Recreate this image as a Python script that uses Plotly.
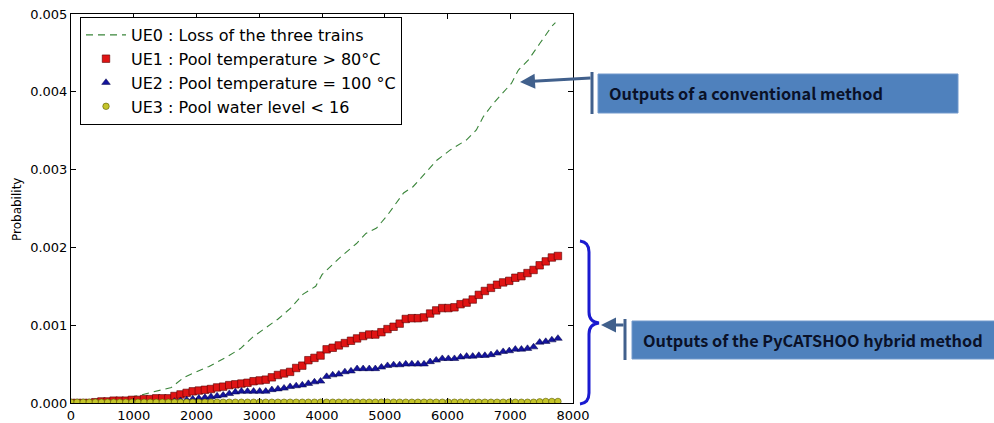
import plotly.graph_objects as go

# ---------------- data ----------------
TIME = [0, 97, 194, 291, 388, 485, 582, 679, 776, 873, 970, 1067, 1164, 1261, 1358, 1455,
        1552, 1649, 1746, 1843, 1940, 2037, 2134, 2231, 2328, 2425, 2522, 2619, 2716, 2813,
        2910, 3007, 3104, 3201, 3298, 3395, 3492, 3589, 3686, 3783, 3880, 3977, 4074, 4171,
        4268, 4365, 4462, 4559, 4656, 4753, 4850, 4947, 5044, 5141, 5238, 5335, 5432, 5529,
        5626, 5723, 5820, 5917, 6014, 6111, 6208, 6305, 6402, 6499, 6596, 6693, 6790, 6887,
        6984, 7081, 7178, 7275, 7372, 7469, 7566, 7663, 7760]

UE1 = [0, 0, 0, 0, 0.00001, 0.00002, 0.00002, 0.00003, 0.00003, 0.00003, 0.00004, 0.00004,
       0.00005, 0.00005, 0.00006, 0.00006, 0.00006, 0.00009, 0.00011, 0.00013, 0.00015,
       0.00016, 0.00017, 0.00018, 0.00020, 0.00021, 0.00023, 0.00024, 0.00025, 0.00026,
       0.00028, 0.00029, 0.00030, 0.00033, 0.00036, 0.00038, 0.00040, 0.00045, 0.00048,
       0.00055, 0.00058, 0.00061, 0.00069, 0.00071, 0.00074, 0.00077, 0.00080, 0.00083,
       0.00086, 0.00088, 0.00088, 0.00091, 0.00095, 0.00098, 0.00102, 0.00108, 0.00109,
       0.00109, 0.00110, 0.00115, 0.00119, 0.00122, 0.00122, 0.00123, 0.00127, 0.00129,
       0.00133, 0.00139, 0.00144, 0.00148, 0.00152, 0.00155, 0.00157, 0.00161, 0.00163,
       0.00167, 0.00171, 0.00177, 0.00182, 0.00187, 0.00189]

UE2 = [0, 0, 0, 0, 0, 0, 0, 0, 0, 0, 0, 0, 0, 0, 0, 0, 0,
       0.00002, 0.00003, 0.00004, 0.00005, 0.00006, 0.00007, 0.00008, 0.00009, 0.00010,
       0.00012, 0.00014, 0.00015, 0.00015, 0.00015, 0.00015, 0.00015, 0.00017, 0.00018,
       0.00019, 0.00021, 0.00022, 0.00023, 0.00025, 0.00027, 0.00028, 0.00034, 0.00036,
       0.00037, 0.00040, 0.00041, 0.00044, 0.00044, 0.00044, 0.00044, 0.00046, 0.00048,
       0.00049, 0.00049, 0.00050, 0.00050, 0.00050, 0.00050, 0.00053, 0.00055, 0.00057,
       0.00057, 0.00057, 0.00059, 0.00060, 0.00060, 0.00061, 0.00061, 0.00062, 0.00064,
       0.00066, 0.00067, 0.00069, 0.00069, 0.00070, 0.00072, 0.00078, 0.00079, 0.00081,
       0.00083]

UE3 = [0.00001] * 77 + [0.000015, 0.00002, 0.00002, 0.00002]

UE0_T = [0, 500, 800, 1000, 1300, 1600, 1800, 2000, 2200, 2500, 2700, 2900, 3100, 3300,
         3500, 3700, 3900, 4000, 4300, 4550, 4700, 4870, 5030, 5140, 5300, 5450, 5600,
         5830, 6040, 6230, 6300, 6460, 6570, 6730, 6890, 7020, 7130, 7290, 7470, 7660, 7720]
UE0 = [0, 0, 0.00004, 0.00008, 0.00014, 0.00020, 0.00033, 0.00040, 0.00047, 0.00060,
       0.00070, 0.00085, 0.00096, 0.00108, 0.00122, 0.00140, 0.00150, 0.00165, 0.00188,
       0.00205, 0.00218, 0.00225, 0.00240, 0.00252, 0.00270, 0.00278, 0.00291, 0.00312,
       0.00325, 0.00334, 0.00338, 0.00351, 0.00368, 0.00385, 0.00400, 0.00411, 0.00428,
       0.00441, 0.00462, 0.00484, 0.00489]

NAMES = ["UE0 : Loss of the three trains",
         "UE1 : Pool temperature > 80°C",
         "UE2 : Pool temperature = 100 °C",
         "UE3 : Pool water level < 16"]
Y_TICKS = [0, 0.001, 0.002, 0.003, 0.004, 0.005]
X_TICKS = [0, 1000, 2000, 3000, 4000, 5000, 6000, 7000, 8000]
LABEL_CONV = "Outputs of a conventional method"
LABEL_HYB = "Outputs of the PyCATSHOO hybrid method"

# ---------------- layout helpers ----------------
W, H = 994, 423
L, R, T, B = 71, 573, 14, 403
PW, PH = R - L, B - T


def px(x):
    return (x - L) / PW


def py(y):
    return (B - y) / PH


fig = go.Figure()
fig.add_trace(go.Scatter(x=UE0_T, y=UE0, mode="lines", name=NAMES[0],
                         line=dict(color="#3a853a", width=1.1, dash="7px,5px")))
fig.add_trace(go.Scatter(x=TIME, y=UE1, mode="markers", name=NAMES[1],
                         marker=dict(symbol="square", size=7.5, color="#e01414",
                                     line=dict(color="#5a0000", width=0.6))))
fig.add_trace(go.Scatter(x=TIME, y=UE2, mode="markers", name=NAMES[2],
                         marker=dict(symbol="triangle-up", size=7.5, color="#14149e",
                                     line=dict(color="#000040", width=0.5))))
fig.add_trace(go.Scatter(x=TIME, y=UE3, mode="markers", name=NAMES[3],
                         marker=dict(symbol="circle", size=6.5, color="#c4c42a",
                                     line=dict(color="#5a5a00", width=0.6))))

axis_common = dict(showline=True, linecolor="black", linewidth=1, mirror="allticks",
                   ticks="inside", ticklen=5, tickcolor="black", showgrid=False,
                   zeroline=False, tickfont=dict(family="DejaVu Sans", size=13, color="black"))

fig.update_xaxes(range=[0, 8000], tickvals=X_TICKS, **axis_common)
fig.update_yaxes(range=[0, 0.005], tickvals=Y_TICKS, tickformat=".3f", **axis_common)

shapes = []
annotations = []

# y-axis title
annotations.append(dict(text="Probability", xref="paper", yref="paper", x=px(17), y=py(210),
                        xanchor="center", yanchor="middle",
                        showarrow=False, textangle=-90,
                        font=dict(family="DejaVu Sans", size=12, color="black")))

# box 1
shapes.append(dict(type="rect", xref="paper", yref="paper", x0=px(598), x1=px(958),
                   y0=py(113), y1=py(74), fillcolor="#4f81bd",
                   line=dict(color="#7399cc", width=1), layer="above"))
annotations.append(dict(text="<b>" + LABEL_CONV + "</b>", xref="paper", yref="paper",
                        x=px(607), y=py(93), xanchor="left", yanchor="middle", showarrow=False,
                        font=dict(family="Noto Sans CJK KR", size=16.3, color="#0a1128")))
shapes.append(dict(type="line", xref="paper", yref="paper", x0=px(592), x1=px(592),
                   y0=py(72), y1=py(114), line=dict(color="#41608c", width=3)))
annotations.append(dict(text="", xref="paper", yref="paper", x=px(520), y=py(82),
                        axref="pixel", ayref="pixel", ax=72, ay=-4, showarrow=True,
                        arrowhead=2, arrowsize=1, arrowwidth=3, arrowcolor="#41608c"))

# box 2
shapes.append(dict(type="rect", xref="paper", yref="paper", x0=px(632), x1=px(996),
                   y0=py(359), y1=py(321), fillcolor="#4f81bd",
                   line=dict(color="#7399cc", width=1), layer="above"))
annotations.append(dict(text="<b>" + LABEL_HYB + "</b>", xref="paper", yref="paper",
                        x=px(641), y=py(340), xanchor="left", yanchor="middle", showarrow=False,
                        font=dict(family="Noto Sans CJK KR", size=16.3, color="#0a1128")))
shapes.append(dict(type="line", xref="paper", yref="paper", x0=px(625), x1=px(625),
                   y0=py(319), y1=py(360), line=dict(color="#41608c", width=3)))
annotations.append(dict(text="", xref="paper", yref="paper", x=px(601), y=py(325),
                        axref="pixel", ayref="pixel", ax=24, ay=0, showarrow=True,
                        arrowhead=2, arrowsize=1, arrowwidth=3, arrowcolor="#41608c"))

# brace
pts = lambda x, y: f"{px(x):.5f},{py(y):.5f}"
brace = (f"M {pts(580, 241)} Q {pts(589, 242)} {pts(589, 252)} L {pts(589, 312)} "
         f"Q {pts(589, 322)} {pts(599, 323)} Q {pts(589, 324)} {pts(589, 334)} "
         f"L {pts(589, 393)} Q {pts(589, 403)} {pts(580, 404)}")
shapes.append(dict(type="path", xref="paper", yref="paper", path=brace,
                   line=dict(color="#1a1ad0", width=3)))

fig.update_layout(
    width=W, height=H,
    margin=dict(l=L, r=W - R, t=T, b=H - B, autoexpand=False),
    paper_bgcolor="white", plot_bgcolor="white",
    showlegend=True,
    legend=dict(x=px(80), y=py(17), xanchor="left", yanchor="top",
                bgcolor="white", bordercolor="black", borderwidth=1,
                font=dict(family="DejaVu Sans", size=16, color="black"),
                tracegroupgap=0, itemwidth=40),
    shapes=shapes, annotations=annotations,
)

fig.write_html("out.html")
